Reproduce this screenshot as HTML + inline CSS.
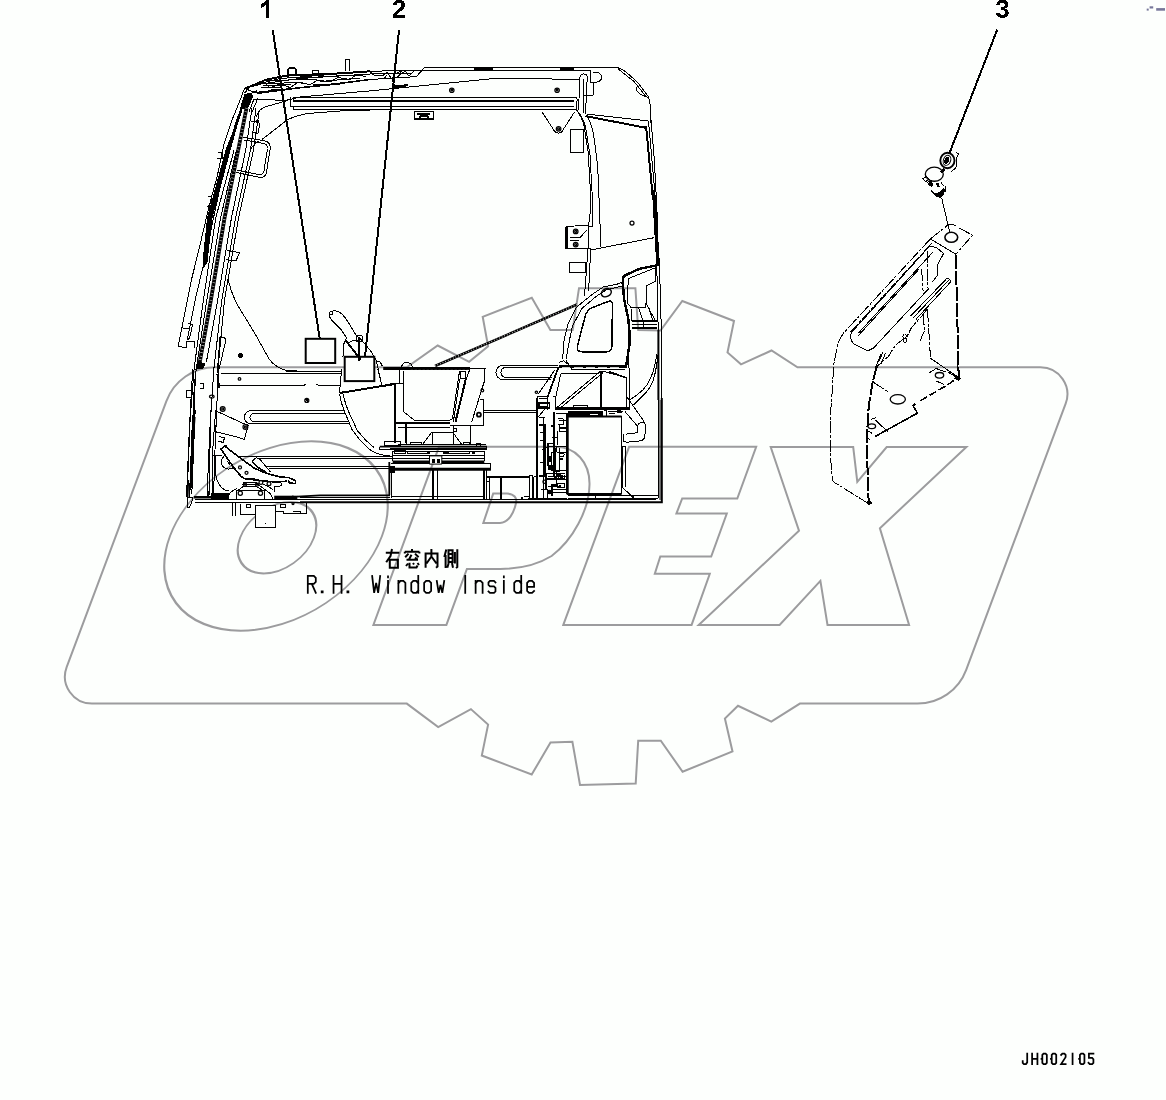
<!DOCTYPE html>
<html><head><meta charset="utf-8"><title>JH002105</title>
<style>
html,body{margin:0;padding:0;background:#fdfffd;}
body{width:1166px;height:1100px;overflow:hidden;font-family:"Liberation Sans",sans-serif;}
svg{display:block;position:absolute;left:0;top:0;}
.k,.k2,.k3,.f{shape-rendering:crispEdges;}
circle,ellipse{shape-rendering:geometricPrecision;}
.k circle,.k ellipse{stroke-width:1.25;}
.w{fill:none;stroke:#9c9c9e;stroke-width:2;stroke-linejoin:miter;}
.k{fill:none;stroke:#000;stroke-width:1;stroke-linecap:butt;stroke-linejoin:round;}
.k2{fill:none;stroke:#000;stroke-width:2;stroke-linejoin:round;}
.k3{fill:none;stroke:#000;stroke-width:2.2;stroke-linejoin:round;}
.t{fill:none;stroke:#000;stroke-width:1.75;stroke-linecap:square;stroke-linejoin:miter;}
.f{fill:#000;stroke:none;}
.wf{fill:#fdfffd;stroke:#000;stroke-width:1;}
.num{font-family:"Liberation Sans",sans-serif;font-weight:bold;font-size:26px;fill:#000;}
</style></head><body>
<svg width="1166" height="1100" viewBox="0 0 1166 1100">
<!-- 10_watermark.svg -->
<g class="w">
<path d="M215.2,367.3 L406.8,367.3 L437.7,345.5 L469.1,361.8 L488.1,346.3 L482.7,316.8 L531.8,297.7 L550.4,329.9 L572.7,329.9 L579,288.2 L635.4,288.2 L638.2,329.9 L660.5,330.5 L682.3,301 L734,321 L727.5,352.5 L741,364.3 L771.5,350.5 L797.5,367.3 L1040.4,367.3 A27,27 0 0 1 1065.65,403.7 L966.2,669.8 A52,52 0 0 1 917.4,703.6 L799.9,703.6 L771.3,721.6 L738,705.8 L724.9,718.6 L732.5,751.4 L682.6,771.8 L660.8,740.7 L638.2,740.7 L635.7,783.5 L580,784.9 L572.4,741.8 L550.5,742.6 L531.7,774.5 L481.8,755.5 L488.1,724.6 L470.9,709.1 L438.2,727.1 L406.8,703.6 L91.9,703.6 A27,27 0 0 1 66.65,667.2 L166.4,401.1 A52,52 0 0 1 215.2,367.3 Z"/>
<ellipse cx="0" cy="0" rx="106" ry="94.7" transform="translate(276,536) skewX(-20.5)"/>
<ellipse cx="0" cy="0" rx="36.9" ry="35.7" transform="translate(277,537.7) skewX(-20.5)"/>
<path d="M439,446.8 L556,446.8 C575,446.8 590,462 589.5,484.7 C589,510 573,540 551.6,556 C537,565 518,568.9 500.3,568.9 L466.9,568.9 L446.4,624.9 L373.4,624.9 Z"/>
<path d="M493.2,493.6 L507,493.6 C514,493.6 517.5,498 515.9,503.5 C514,512 509,522.9 500,522.9 L483.3,522.9 Z"/>
<path d="M563.3,624.9 L629.1,446.8 L756.2,446.8 L737.3,498.5 L682.2,498.5 L676.4,513.6 L726.8,513.6 L711.2,556.5 L660.3,556.5 L654.8,573.8 L709.8,573.8 L691.6,624.9 Z"/>
<path d="M698.7,624.9 L779.6,624.9 L820.4,580.9 L827.5,624.9 L909.1,624.9 L879.9,528.2 L966.4,447 L886.7,447 L857.3,481.8 L853.2,447 L770.7,447 L799,530.8 Z"/>
</g>
<!-- 20_cab_top.svg -->
<!-- ROOF -->
<g class="k">
<path d="M247.3,86.8 L280,78.6 L370,71.3 L415,70.2 L590.2,70.4"/>
<path d="M244.5,88.5 L262,83.8 L300,78.5 L370,74 L412,73.5"/>
<path d="M255.4,92.7 L340,83.3 L370,79.5 L416.4,76.6 L424.5,67.5 L574.5,67.9 L585.5,67.6 L615.5,67.5"/>
<path d="M268.3,80.7 L317.2,79 M262.3,83.7 L303.5,82.4 M263.2,85.9 L291.5,84.6 M312.9,85 L325.8,84.2 M261.4,88 L280.3,87.6 M268.3,90.2 L280.3,89.3 M300,78 L345,75.5 M320,81.5 L360,78"/>
<path d="M258,93.5 L300,88 L345,83.5"/>
<path d="M254,99 L285.5,100.5 L300,97 L370,90.9 L495.5,78.4 L580,79.3"/>
<path d="M290,97 V106.8 M293,97 H574.5 M293,97 V100.5 M293,106.6 V110 M290,106.6 L370,106.4 L574,106.3 M293,110 L405,109.7 L576,109.8"/>
<path d="M370,71.8 L375,76 L383,75.5 L387,72.5 L392,79 L395,74 L402,70.8 L398,76.5 L405,71 L409,76 L414,71 M370,79.3 L384,78.8 L387,75 M392,79 L394,84 L394,88.5"/>
<path d="M345.5,70.5 V59.5 H349.5 V70.5 M312.7,75 V70.5 H318.2 V75"/>
<path d="M265,83 L270,88 L280,84 L290,87.5 L298,82.5 L310,84.5 L318,80 L330,82 L338,77.5 L350,79.5 L356,75 L366,76.5"/>
</g>
<g class="k2">
<path d="M244.3,88.9 L265.7,79.9 L286.3,75.6 L340,73.4 L370,71.3"/>
<path d="M255.4,92.7 L340,83.3 L370,79.5" style="stroke-width:1.6"/>
<path d="M293,100.6 H574"/>
<path d="M287.5,76.3 V72 A4.3,4.3 0 0 1 296.4,72 V75.5"/>
<path d="M473.6,68.6 H492.7" style="stroke-width:2.6"/>
<path d="M424.5,67.6 H574.5 L585.5,67.5 L615.5,67.4" style="stroke-width:1.6"/>
<path d="M560,68.8 H574" style="stroke-width:2.4"/>
<path d="M393,86.5 L407,85.2 L394,88.5 Z" style="fill:#000"/>
</g>
<g class="k">
<circle cx="451.8" cy="90.2" r="2.2"/><circle cx="451.8" cy="90.2" r="0.8"/>
<circle cx="557.1" cy="90.2" r="2.2"/><circle cx="557.1" cy="90.2" r="0.8"/>
<path d="M414.3,111.4 H433.4 V118.9 H414.3 Z M417,114 H430 M420,118.9 V116 H428 V118.9" style="stroke-width:1.3"/>
<!-- rear top corner -->
<path d="M615.5,67.5 C620,67.8 623,69.5 626,72 L637.3,82 L648.2,96.4 C650,100 650.5,104 650.9,118.2 L654.3,159.1 L656.4,200"/>
<path d="M618,68.8 L634,81.5 L646.5,97"/>
<path d="M638,84.8 L636,89.6 L639.3,93.6 L648.2,97.7"/>
<path d="M590.2,70.4 V82.7 H593 V95 H584.1 M593,72.5 C597,71.8 601.3,73 601.8,77.3 C601.5,81 598,82.5 593,82.7"/>
<path d="M580,77 C580.5,73 586,73 587.3,76.5 L585.5,114 M580,77 L578.5,110 M583,78 L584,113"/>
<path d="M574.5,97 C577,97 577.5,99.5 577,101 L576,110"/>
<path d="M541.8,111.6 L554.1,130.5 C556,133.5 560,134 562,131.5 L574.5,112"/>
<circle cx="558.6" cy="128.8" r="2.3"/><circle cx="558.6" cy="128.8" r="1"/>
<path d="M570.5,129.8 H583.4 V152.3 H570.5 Z"/>
<path d="M576.6,110 C581,116 583,121 584.1,126.4 L588.2,152.3 L590.9,200"/>
<path d="M578.5,112 C583,118 585,124 586,130 L590,155 L592.5,200"/>
<path d="M586.8,115.5 C590,121 592,127 593.6,134.5 L597.7,165.9 L599.1,200"/>
<path d="M586.8,114.1 L648.2,120.9 M585.5,116.1 L645.5,127.7" />
<path d="M646.1,126.4 L653,200 M648.5,121 L655.5,200 M650.5,120 L651.5,126"/>
</g>
<g class="k2"><path d="M585.5,116.1 L645.5,127.7 M646.1,126.4 L653,200"/></g>
<!-- 22_cab_pillar.svg -->
<!-- FRONT PILLAR -->
<g class="k">
<path d="M241,98 L232,120 L224,144 L217,177.3 L209.5,204.5 L198.6,250.9 L191.4,280 L178.4,345.5"/>
<path d="M244,100 L236,122 L229,146"/>
<path d="M228,150 L204.1,262 L196.1,296 L187.3,340"/>
<path d="M234.1,150 L215.7,218.2 L203.4,300 L194.1,368.6 L189.3,430"/>
<path d="M236.5,150 L220.5,218.2 L206.8,300 L196.1,370 L192,430"/>
<path d="M252,108 L245.7,150 L231.4,218.2 L217.7,300 L206.4,361.8"/>
<path d="M256,108 L250.5,150 L235.5,218.2 L221.8,300 L213.9,368.6 L209.8,430"/>
<path d="M259,112 L253.5,150 L238.5,218.2 L224.5,300 L218.6,361.8 L216.6,410.9"/>
<path d="M254,99 L249,112 M258,98 L252,112"/>
<!-- small brackets on pillar -->
<path d="M218,152 H222.5 V158 H217 M208.5,196 L212,197 L211,203 L207.5,207 M208,207 L211,209 L210,214"/>
<path d="M250.7,120.9 L258.5,122.5 C260,123 260,124.5 259.5,126 L258,133.2 L252,132.5 M257.5,120 a1.2,1.2 0 1 0 0.1,0"/>
<path d="M226.8,250.5 L239.5,252.5 L236,261 L226,259.5"/>
<!-- wiper motor box -->
<path d="M180.5,327.7 L188.5,328.7 M178.4,346.8 L186.5,347.3 V341 H194 V348.2 M188.5,323.5 L192.5,324.2 L190.5,334.5 L188.5,340"/>
</g>
<path class="f" d="M242.6,109 L237,127 L230.6,150 L212.5,218 L207.5,262 L203.5,268.5 L202.5,262 L207,218 L225.5,150 L234.5,127 L241.2,109 Z"/>
<path class="f" d="M244.5,94 L251.5,92.5 L253,96.5 L249.5,105 L247,109 L240,109 L242,101 Z"/>
<g class="k"><path d="M247.3,86.8 C244.5,88 243,91 241,98 M250,87 L244.5,93 M256.8,90.9 L250.5,93.5 M244.5,88.5 L258,93.5"/></g>
<path d="M246.5,108 L238.2,150 L224.5,218.2 L210.9,300 L199.8,362" style="fill:none;stroke:#000;stroke-width:3.8"/>
<path d="M246.5,108 L238.2,150 L224.5,218.2 L210.9,300 L199.8,362" style="fill:none;stroke:#fdfffd;stroke-width:2.6;stroke-dasharray:0.55 3"/>
<path class="f" d="M197.5,361 L205.5,363.5 L203.5,368.5 L195.5,369.5 Z"/>
<!-- GRAB HANDLE -->
<g class="k">
<path d="M243.2,137.3 L263.5,140.6 C268,141.3 270.5,144 270.3,148 L266.5,172 C266,176 263,178 259,177.3 L236.4,172.5"/>
<path d="M243.8,140 L262.5,143.2 C266,143.8 267.8,145.5 267.5,148.5 L264,171 C263.5,174 261.5,175 258.5,174.5 L236.8,170"/>
<path d="M262.3,139.3 L286.8,120.2 C295,116 302,114.3 308.6,113.4 L340,111 L370,110"/>
<path d="M256,117 C258,111 261,108.5 265,107 L285.5,101"/>
<path d="M250,150 C252,147 255,143 259,141"/>
</g>
<!-- 24_cab_midleft.svg -->
<!-- lower wiper / left wall -->
<g class="k">
<path d="M228.2,280 C231,292 234,298 236.4,303.2 L255.5,334.5 L269.1,359.1 C272,363 278,368 286.8,370.7 L310,371.4 H341"/>
<path d="M220,337.3 L224.5,338 C226,338.5 226,340 225.5,341.5 L219.3,368.6 M220,337.3 L217.3,372.7"/>
<circle cx="239.5" cy="378.9" r="1.3"/>
<path d="M220.7,373.8 H341.5 M220,385.7 H303.2 L305.5,384.4 M316,384.4 L319,385.2 H340"/>
<path d="M286,371.1 H342"/>
<circle cx="306.8" cy="400.4" r="2"/><path d="M305.4,399 L308.2,401.8 M308.2,399 L305.4,401.8"/>
<path d="M251,410.7 H345 M254,413.4 H346 M254,421.6 H349 M251,423.9 H350"/>
<path d="M251,410.7 A6.6,6.6 0 0 0 251,423.9 M254,413.4 A4.1,4.1 0 0 0 254,421.6"/>
<circle cx="222.7" cy="408.9" r="2.4"/><circle cx="222.7" cy="408.9" r="1"/>
<circle cx="245.4" cy="427" r="2.4"/><circle cx="245.4" cy="427" r="1"/>
<path d="M192.7,368.6 L189.3,430 L186.5,497 M196.1,370 L192,430 L189.5,497"/>
<path d="M186.6,390.5 H191.4 V397.3 H186.6 Z M199.5,383.6 H203.6 V388.4 H199.5"/>
<ellipse cx="211.8" cy="396.6" rx="2.3" ry="1.5"/>
<path d="M216.6,410.9 L215,450 L213.5,497 M209.8,430 L207,497"/>
<path d="M217.3,374.1 L219.3,387.7" style="stroke-width:1.8"/>
</g>
<path class="k2" d="M194.8,379.5 L193,440 L190.5,490" style="stroke-width:1.8"/>
<circle class="f" cx="240.5" cy="355.7" r="2.5"/>
<!-- decals 1 & 2 -->
<rect x="305.7" y="338.8" width="29.5" height="24.2" style="fill:#fdfffd;stroke:#000;stroke-width:2"/>
<g class="k">
<!-- lever -->
<path d="M329.3,315 C328.5,311.5 331,310.5 336.8,311.1 C342,312.5 345,317 347.7,321.4 L355.9,335 L362,340.5 L370.9,351.4 L376.4,360.9 L381.8,385.5"/>
<path d="M329.3,315 C330,319 332,321 334.1,322.7 L340.9,329.5 L346.4,337.7 L343.6,344.5 L343,356.8"/>
<path d="M331,311.5 a1.8,1.8 0 1 0 .1,0 M356.6,335.7 H362 V341.1 H356.6 Z M347.5,343.5 C351,341 355,340 358.5,340"/>
<path d="M375.7,362.3 C377,360.3 380,359.8 382.5,366.4"/>
<path d="M341.6,369.1 L339.5,393 M377.7,369.1 L381.8,385.5"/>
<path d="M339.5,393.6 C340.5,400 342,406 345,412.7 L351.8,429.1 L360,440 L369,449 C373,452.5 380,455 390,456"/>
<path d="M343,394.3 C344.5,400 346,406 349.1,412.7 L357.3,430.5 L365.5,440 L374,447.5"/>
</g>
<g class="k2" style="stroke-width:2">
<path d="M359.3,337 V359.5 M345.7,340.5 L358.6,356.8"/>
<path d="M339.5,393 L394.1,384.1 M394.8,384.1 V442.7"/>
<path d="M394.8,423 H450"/>
</g>
<rect x="344.7" y="356.8" width="29.6" height="24.3" style="fill:#fdfffd;stroke:#000;stroke-width:2"/>
<path class="f" d="M357.5,357 h3 v3 l-2,1 z"/>
<!-- 26_seat.svg -->
<g class="k">
<path d="M401.6,366.6 C402.5,363.5 405,362.3 407,362.4 C409.5,362.5 411.5,364 412.5,366.6"/>
<path d="M399.5,369.1 V382.7 M403,370.5 V411.4 L414.5,420.2 H450 C451.5,420 452.3,419 452.6,417.5 L458.2,379.5 L459.5,371.5"/>
<path d="M390,383.6 H403"/>
<path d="M460.9,371.4 H465.7 V378.2 H460.9 Z M459.5,379.5 L453.4,421.8 M469.8,369.3 L466,379.5"/>
<path d="M485.5,368.4 H469 M484.8,368 V379.5 L471.8,421.8 M479.5,399.3 H483.4 V425.9 H450 M484.8,379.5 L482,390"/>
<circle cx="482.3" cy="390.5" r="1.4"/><circle cx="478.9" cy="414.7" r="2" style="stroke-width:1.8"/>
<path d="M406.4,424 V444.3 M398,427.3 H450 M470.5,426 V444.3 M453.4,426 V444.3 M454,428 H456.8 V431.4 H454"/>
<path d="M431.6,432.5 H453.4 M431.6,432.5 L422.7,444.3 M432.3,432.5 V444.3 M454.1,434.1 L461.6,444.3"/>
<path d="M410.5,444.3 V442.3 H421.4 V444.3 M463,444.3 V442.3 H469.1 V444.3 M476.6,446.4 V443.6 H480.7 V446.4 M390,441.6 H400.2 V445"/>
<path d="M398,444.4 H486 M398,446.6 H486.8 V449.1"/>
<path d="M392.7,451.1 H484 M407.7,451.1 H427.5 V453.9 H407.7 Z M448.6,451.1 H469.1 V453.9 H448.6 Z M392.7,455.9 H484 M392.7,458.6 H484 M392.7,451.1 V461.4 M484,451.1 V461.4"/>
<path d="M391.4,463.6 H490.9 V469.5"/>
<path d="M437.4,470 V499 M486.6,470 V499 M489.5,477.7 V499 M486.3,476.7 H489.5 V481.2 H486.3 M529.4,475.4 H532.6 V499 M529.4,475.4 V499 M391,496 H484.3 M528,498.5 H567 M533,477.5 L536.5,476"/>
<path d="M432.9,470 V499 M484.3,470 V499 M486.3,477.3 H529.4 M501,477.7 V499" style="stroke-width:2"/>
<path class="f" d="M521,497 h2.2 v2.2 h-2.2z M523.5,495.5 h5 v1.3 h-5z"/>
<!-- slot right of seat -->
<path d="M503.2,365.2 H558 M503.2,379.7 H551 M503.2,365.2 A7.25,7.25 0 0 0 503.2,379.7 M506,367.3 H557 M506,377.6 H552 M506,367.3 A5.15,5.15 0 0 0 506,377.6"/>
<path d="M484,410.2 H537 M484,412.3 H537"/>
</g>
<g class="k2" style="stroke-width:2">
<path d="M465.7,379.5 L455.5,421.8"/>
<path d="M395.2,422.7 H450"/>
<path d="M390,449.3 H486.8"/>
</g>
<path d="M383.2,368.4 H470" style="fill:none;stroke:#000;stroke-width:3"/>
<path d="M410.5,370.4 H469" style="fill:none;stroke:#fdfffd;stroke-width:1;stroke-dasharray:2.5 1.5"/>
<path d="M392.7,462 H484.3" style="fill:none;stroke:#000;stroke-width:3"/>
<path d="M390,469.2 H490.9" style="fill:none;stroke:#000;stroke-width:3"/>
<path class="f" d="M427.5,451 h2.2 v3 h-2.2z M442.5,451 h6 v3 h-6z M471.5,451 h3.5 v3 h-3.5z M390,466 h4 v7 h-4z"/>
<path d="M429.5,455.9 H441.8 V464.1 H429.5 Z" style="fill:#fdfffd;stroke:#000;stroke-width:1"/>
<path class="f" d="M431.5,459 h3.5 v3.5 h-3.5z M436.5,459 h3.5 v3.5 h-3.5z"/>
<!-- belt -->
<path d="M435,366 L577,304.5" style="fill:none;stroke:#000;stroke-width:2.5"/>
<path d="M435,366 L577,304.5" style="fill:none;stroke:#fdfffd;stroke-width:1.4;stroke-dasharray:0.6 2.2"/>
<!-- 28_floor.svg -->
<g class="k">
<!-- lower pillar / wiper arm lower -->
<path d="M190.5,410 L187,497.3 H192.5 L191.8,502.7 L189.1,508.2 L187,506.8 V497.3 M195.2,410 L191.8,494.5"/>
<path d="M210.9,410 L208.9,495.9 M215.7,410 L212.3,455 V495 M209.5,455.7 V495"/>
<path d="M213,455.7 H222 M215.7,456.4 V474 C216.5,481 219,485 222,488 C224.5,490 226.5,491 228.6,491"/>
<!-- bracket -->
<path d="M217,411.4 L242.3,423 L248.4,425 L244.3,439.3 L238.2,437.3 L215.7,431.8 Z M219.5,436.5 L224.5,438 L223,442.5 L218.5,441"/>
<!-- rails -->
<path d="M213,455.7 H222 M239.5,456.1 H392.7 M257.5,458.2 H392.7 M266,466.2 H389.3 M228.5,468.2 H236 M268.5,468.4 H389.3"/>
<!-- pedal -->
<path d="M254.5,468.3 L240.7,458.4 L227.9,448.6 L225.7,445.6 L221,449 L233,466.6 L240.7,476 L244.2,478.6 L254.5,479.9 L275,482 L287,481.2" style="stroke-width:1.6"/>
<path d="M254.5,468.3 L266.5,473.4 L280.2,476.9 L288.8,477.7 L295.6,480.7 V483.7 L289.6,482.9 L287.9,480.3" style="stroke-width:1.6"/>
<path d="M251.9,461.4 L256.2,457.6 L259.6,458.9 L270.7,472.2 M251.9,461.4 L257.9,467.4 L266.5,472.6" />
<path d="M251.9,461.4 L257.9,467.4 L266.5,472.6" style="stroke-width:1.8"/>
<circle cx="240" cy="467.4" r="1.5"/><circle cx="246.5" cy="472.8" r="1.5"/>
<path d="M224,456.3 A6.4,6.4 0 1 0 233,467.5"/>
<path d="M227,461 L230,464.5"/>
<!-- pedal base -->
<path d="M227.9,499.2 C228.3,495.5 229,493.5 230.4,492.3 L237.3,488 M263,488 L269.9,493.2 C271.5,495 272.2,497 272.5,499.2"/>
<path d="M236.9,490.6 H264.3 V499.2 H236.9 Z M237.7,490.6 L243.3,486.3 H256.2 L263,490.6 M247.6,478.6 H254.5 M244.2,482 H255.3 M242.4,484.6 H257.9 M244.2,482 L242.4,484.6 M255.3,482 L257.9,484.6"/>
<circle cx="240.3" cy="493.2" r="2.1"/><circle cx="260.5" cy="493.2" r="2.1"/>
<circle cx="245" cy="484.6" r="1.6"/><circle cx="257" cy="484.6" r="1.6"/><circle cx="260.9" cy="482.5" r="1.9"/><circle cx="269" cy="483.7" r="1.9"/>
<path d="M273.3,482.9 H281 V485.5 L278.5,486.7 H274.2 V491.5 M263.5,484 L273,489.5 M257.9,484.6 L263,488"/>
<!-- floor -->
<path d="M194.5,499.3 H656 M194.5,502.3 H657 M300,497 H390"/>
<path d="M232.7,502.7 V516.4 M235.5,502.7 V516.4 M240.2,504.1 V514.3 H255.2 M246,504.3 H250.5 V507.5 H246 Z M280.5,504.3 H285 V507.5 H280.5 Z M275.7,511 H283 V513.6 H306.4 V502.7 M293,511 H300 V513.6"/>
<path d="M255.2,505.5 H275.7 V527.3 H255.2 Z" style="fill:#fdfffd"/>
<path d="M264.8,522.6 h1.5 v1.2 h-1.5z" class="f"/>
<circle cx="292.8" cy="497.2" r="1"/><circle cx="293" cy="503.6" r="1"/>
</g>
<path d="M193.9,497.3 H211 L228.6,496.2" style="fill:none;stroke:#000;stroke-width:2.6"/>
<path class="f" d="M211,493.4 H228.7 V499.2 H211 Z"/>
<path class="f" d="M225,445 l2.2,1.8 l-1.6,1.6 l-2,-1.8z"/>
<path d="M274.2,497.4 H297.3" style="fill:none;stroke:#000;stroke-width:3.4"/>
<path d="M297,496.6 L320,495.4 H390" style="fill:none;stroke:#000;stroke-width:1.6"/>
<path d="M194.5,417 L192.8,440" style="fill:none;stroke:#000;stroke-width:2.2"/>
<path d="M188.2,480 L187.5,497" style="fill:none;stroke:#000;stroke-width:2"/>
<g class="k">
<path d="M389.3,462 V495 M391.4,469 V498"/>
<path d="M384.5,441.6 H400.2 V445.5 H384.5 Z M379.8,446.5 V449.5 H392"/>
<path d="M394.1,450.2 H405.7 V453 H394.1 Z M405.7,424.3 V442.7 M405.7,427.7 H450"/>
</g>
<path class="f" d="M391.4,466 h3.4 v7.4 h-3.4z"/>
<path d="M389.3,462 V495" style="fill:none;stroke:#000;stroke-width:1.8"/>
<path d="M379.8,446.6 H486.8" style="fill:none;stroke:#000;stroke-width:1.8"/>
<!-- 30_rear.svg -->
<g class="k">
<!-- rear pillar lines continuing down -->
<path d="M590.9,200 L590,214.5 L588.6,225.5 L588,248.6 L584.5,296.4"/>
<path d="M592.5,200 L592.7,226.8 M599.1,200 L600.9,247.3 M590.7,250 L588.6,290.9"/>
<path d="M594.1,249.3 L654.1,237.7 M588,248.8 L594.1,249.3"/>
<circle cx="632" cy="223" r="2"/>
<path d="M569.5,262.3 H585.2 V272.5 H569.5 Z"/>
<!-- hinge bracket -->
<path d="M566.5,226.5 L586,225.3 L592.7,226.8 M566.5,248.6 H588 M570.2,237.5 H580 L587,230 M570.2,240.5 H578.5"/>
<circle cx="575.7" cy="231.4" r="2.3"/><circle cx="575.7" cy="244.6" r="2.3"/><circle cx="575.7" cy="231.4" r="1"/><circle cx="575.7" cy="244.6" r="1"/>
<!-- rear right wall -->
<path d="M655.5,200 L659.5,266.4 L661.6,340 V502 M656.4,200 L658,232 M653,200 L656.8,266 L658.2,330 V498"/>
<!-- armrest / console upper -->
<path d="M628.2,278.6 L655.5,267.7 V281.4 L646.6,285.5 L645.9,307.3 H630.9 L627.5,303.2 Z"/>
<path d="M631.6,308.6 V320.9 M645.9,303.2 L655.5,320.9 M638.5,308 L643.2,320.9 V327.7 M631.5,324.3 H656.8 M649,308 L652.5,320"/>
<path d="M617.3,284.1 L603.6,286.8 L591.4,295 L576.4,307.3 L568.2,323.6 L564.1,340 L562.7,358.6"/>
<path d="M618.6,286.8 L606,290 L596,296.5 L581.8,308.6 L572.3,326.4 L569.5,340 L566.1,358.6"/>
<path d="M617.3,284.1 L621,282.5 L623,286 L618.6,286.8"/>
</g>
<g class="k2" style="stroke-width:1.5">
<ellipse cx="606.3" cy="292.7" rx="5.2" ry="3.8" transform="rotate(-25 606.3 292.7)"/>
<path d="M585.9,313.4 L590,308.6 L609.1,301.1 C611.5,301 612.5,302 612.5,304 L611.8,347 C611.5,350.5 610,351.8 607,351.8 H582 C578.5,351.8 576.8,350 577.3,346.5 Z"/>
</g>
<g class="k3" style="stroke-width:2.4">
<path d="M658.2,265 L639,269 L625.5,275.2 C623,277 622.5,278.5 622.7,280 L624,299 L628.2,318.2 L630.2,340 L625.8,368"/>
<path d="M653.4,190 L658.2,266.4"/>
<path d="M566.5,226.5 V248.6" style="stroke-width:3.6"/>
<path d="M631.5,320.9 H656.8 M631.5,327.7 H656.8" style="stroke-width:1.8"/>
<path d="M559.3,366.3 H625.5" />
<path d="M555.2,408.4 H629.5"/>
<path d="M600.9,370.9 V408" style="stroke-width:1.8"/>
<path d="M558.6,366.8 L547.7,396.8" style="stroke-width:1.8"/>
<path d="M609.1,371.6 L625.5,377.7" style="stroke-width:1.6"/>
</g>
<path d="M562,367.6 H622" style="fill:none;stroke:#fdfffd;stroke-width:.9;stroke-dasharray:9 3"/>
<g class="k">
<path d="M558.6,362.7 L563.4,360.7 L568.2,364.1 M566,360.5 L572,369.5 H625"/>
<path d="M555.2,369.5 L538.2,394.1 M560.7,373.6 L555.9,396.8 M561.4,373.8 H598"/>
<circle cx="536.4" cy="392.3" r="1.2"/>
<path d="M600.9,370.9 L555.9,408.4 M603,372.6 L560,408.4"/>
<path d="M601.6,370.9 L626.8,377.7 V409.1 M628.2,330 V368 M629.5,368 V409"/>
<path d="M573,407.7 V405.4 H587.3 V407.7"/>
<!-- hoses right -->
<path d="M658.9,343.6 C658,360 656,372 652.7,381.8 C650,388 647,392 643.2,395.5 L633.6,405"/>
<path d="M656.8,354.5 C655,368 652,377 647.3,384.5 C644,389.5 640.5,392.5 636.4,395.5 L628.9,400.2"/>
<!-- pipe elbow -->
<path d="M626.8,396.8 L643.4,420.5 C645,423 645.5,425 645.5,427.3 L644.8,436.8 C644,439.5 642.5,440.5 640,440.9 L626.4,442.3"/>
<path d="M625,411.6 L637.3,425.9 V432.7 L626.4,434.1 M637.3,425.9 C638.5,422.5 642,421.5 645,423.8 M623,434.1 V441.6 H626.4"/>
<path d="M622.3,446.4 V487.3 L633.2,497.5 M625.7,446.4 V487.3 M622.3,446.4 H625.7"/>
<!-- fridge box -->
<path d="M621.6,416.4 V494.1 M567.7,495.5 H658 M567.7,498.2 H658 M595,495.5 V498.2 M633.5,495.5 V498.2"/>
</g>
<path d="M567.7,416.4 H621.6 M567.7,416.4 V494.1 H621.6" style="fill:none;stroke:#000;stroke-width:2"/>
<path class="f" d="M567.5,410.5 H603 V416 H567.5 Z"/>
<path d="M590,414.5 H598" style="stroke:#fdfffd;stroke-width:1;fill:none"/>
<g class="k">
<path d="M604,410 H606.5 V416 M608,411 H623 M609,413.5 H615 M617,410.5 h4 v2 h-4z"/>
</g>
<!-- rear wall & floor -->
<path d="M661.8,398 V502.3 H300 M658.4,330 V400" style="fill:none;stroke:#000;stroke-width:2"/>
<path d="M660,400 V500" style="fill:none;stroke:#000;stroke-width:1"/>
<!-- 32_mech.svg -->
<!-- mechanism column left of fridge -->
<g class="k">
<path d="M537.5,396.8 H547 V406.4 H537.5 Z M536.1,400.5 V405 M547,406.4 L538.2,417 M552.5,396.8 H555.9 V408.4 M543.6,417.7 V498 M547,398 V410"/>
<path d="M538.5,398.8 H546.5" />
<path d="M557,413 H566.8 M557.5,418.5 H563 V424.5 H557.5 M559,424.5 V431 H566.8 M557,431 V445 M552,437 H557 M549.5,446 H556.5 V452 L551,453 V470 H556 M556.5,452 H566.8 M559,452 V470 H566.8"/>
<path d="M556,470 V476 H566.8 M548,476 H556 V486 H547.5 M558,479 H566.8 M557,483 H564 V487.5 H557 Z M553,489 H566.8 M548.5,492 H566.8 M541,489 H547 V498 M529.5,475 V498 M533,477 V498"/>
<circle cx="544.5" cy="481.8" r="1.6"/><circle cx="549.3" cy="492" r="1.6"/>
</g>
<g class="k3" style="stroke-width:2.2">
<path d="M537.2,402.7 V498.2"/>
<path d="M553.6,412.3 V476.4"/>
<path d="M566.9,413 V494"/>
</g>
<path class="f" d="M547.5,466 h6.5 v3.5 h-6.5z M556.5,474 h4 v3 h-4z M552,483.5 h3.5 v3.5 h-3.5z M560,475 h3 v2.5 h-3z M549,455.5 h2.5 v6 h-2.5z M536,398 h2 v8 h-2z"/>
<g class="k2" style="stroke-width:1.6">
<path d="M539,402.7 H549.3 V408.2 H539 Z M539,425 H545.2 V476 H539 M548,443.6 H554 V465.5 H548 Z"/>
<path d="M555.5,413.5 H567 M558.9,420.5 H567 M558.9,428 H567 M555.5,446.4 H567 M555,447.7 V470.9 H559.5 V447.7"/>
<path d="M546,473.6 H565 M546,479 H565 M546,473.6 V490 M552,484 V496"/>
</g>
<g class="k">
<path d="M542.5,450 L547.6,446.4 H553.4 M539,417.7 H545.2 M559.5,453.2 H563.5 L564.5,454.6 L563.5,456 H559.5 M540,432 h4 M540,440 h4 M540,462 h4"/>
<path d="M556,475 h9 M556,477 h9" style="stroke-dasharray:1 1"/>
</g>
<path class="f" d="M548,465.5 h5.4 v4 h-5.4z M551.4,424.5 h2 v2.8 h-2z M554,476.4 h2.2 v2.7 h-2.2z M552.7,484.5 h4 v2.7 h-4z M548,490 h2.7 v4 h-2.7z M556,486.5 l5,-1.5 v3.5 z M559.5,458 h3 v2 h-3z"/>
<!-- 40_bracket.svg -->
<!-- item 3 -->
<g class="k">
<ellipse cx="934.3" cy="174.2" rx="9" ry="7.1" style="stroke-width:1.35"/>
<path d="M923,178.5 L926.5,176.5 L929,179.5 L925.5,181.5 Z M926.5,181 L930,186 M941,182.5 L943.5,186 M945,186 V192 M941.6,197.6 L949.8,232.5"/>
<path d="M956,152.5 L958.5,154 L957,156.5 M956.5,157 C957.5,161 957,165 955.5,168 L951,172"/>
</g>
<ellipse cx="947.4" cy="160.5" rx="7.1" ry="7.7" style="fill:none;stroke:#000;stroke-width:1.9"/>
<ellipse cx="947" cy="160.3" rx="3.6" ry="5.2" transform="rotate(20 947 160.3)" style="fill:none;stroke:#000;stroke-width:1"/>
<ellipse cx="946.8" cy="160.2" rx="2.2" ry="3.8" transform="rotate(25 946.8 160.2)" class="f"/>
<path class="f" d="M928,181 l3.5,-1 l2,6 l-2.5,1z M936,183 l2.5,-0.5 l1,4 l-2.5,0.5z M931,190 l4,3 l5,-1 l3,-4 l2,1 l-1,6 l-4,3 l-5,-2 l-4,-5z M940,172 l3,-4 l2,2 l-3,4z"/>
<!-- bracket -->
<g class="k" style="stroke-dasharray:12 1.6 3 1.6">
<path d="M930.4,238.9 L947.8,225.1 C950,224.3 953,224.3 956,225.8"/>
<path d="M959.5,228 L972.5,235.3 L955.8,254.2"/>
<path d="M930.4,238.9 L844.5,332 C840,337 838.5,341 837.3,346.5 L833.6,365.5 L832.4,389.1 L830.2,418.2 L830.9,461.8 L832.4,479.3 C833,482 835,483.5 837.5,484.4 L868,503.3"/>
<path d="M931.8,243.3 L850.4,332"/>
<path d="M927.5,250.5 V288.4 M921.6,269.5 L923.1,291.3"/>
<path d="M927.5,308.7 L923.1,314.5 L911.5,327.6 L907.1,336.4 L895.5,345.1 L888.2,356.7 L878,365.5 L872.2,380"/>
<path d="M923.1,313.1 L924.5,330.5 L920.2,340.7 M927.5,310.2 L930.4,356.7"/>
<path d="M873.8,382.5 L888.4,392"/>
<path d="M957.5,360 L958.2,374.5"/>
</g>
<g class="k">
<path d="M955.8,254.2 L930.4,238.9"/>
<path d="M928.9,246.9 C932,246 935,247 937.6,248.4 L943.5,253.5 L937.6,265.1 V275.3 L931.8,282.5"/>
<path d="M928.9,246.9 L851.8,332 C849.5,336 850.5,340 853.3,343.6 L867.8,350.9 L873.6,348 L928.9,288.4"/>
<path d="M918.7,269.5 L857.6,336.4 M933,252 L858.5,333" />
<path d="M946.4,278.9 L910.7,316 M948.5,280.4 L912.9,318.2 M950.7,281.8 L915.8,319.6 M946.4,278.9 C948,277.5 950.5,279 950.7,281.8"/>
<path d="M880.9,353.8 L876.5,365.5 M883,352 L878.5,362 M885.5,353 L881,364"/>
<path d="M930.4,358.2 L958,377.1 M904.5,334 a1.6,2.2 0 1 0 .1,0 M905,338 a1.6,2.2 0 1 0 .1,0"/>
<path d="M876.5,365.5 L872.9,380"/>
<path d="M875.3,420 L888,432 M871,419.5 L876.5,417.5 M868,431 L872.5,433.5 M867.5,438 L870,440"/>
<path d="M929,373 L936,368.5 L946,372 M936,381 L944.5,384.5 M948.5,372.5 L958,378"/>
</g>
<g class="k2" style="stroke-width:1.6">
<ellipse cx="951.3" cy="237.3" rx="6.4" ry="5"/>
<ellipse cx="897.8" cy="399.3" rx="7.6" ry="4.7" style="stroke-width:1.3"/>
<ellipse cx="939.5" cy="375.3" rx="4.2" ry="2.8" style="stroke-width:1.3"/>
<ellipse cx="871.8" cy="426.2" rx="3.8" ry="2.4" style="stroke-width:1.3"/>
<path d="M875.3,436.4 L917.5,413.1 L913.1,405.8 L915.5,403.5"/>
<path d="M920.4,400.7 L946.5,385.5 L959.6,376.7" style="stroke-dasharray:8 2.5"/>
</g>
<g class="k3" style="stroke-width:2;stroke-dasharray:14 2">
<path d="M955.8,254.9 L958.7,377.1"/>
<path d="M876.7,365.8 L872.4,383.3 L868.7,406.5 L867.3,429.8 V461.8 L868.7,503.3"/>
</g>
<path class="f" d="M866.5,501.5 l4,-1 l2,2.5 l-3.5,2.5z M956,376 l5,2.5 l-2,2.5 l-5,-2.5z"/>
<!-- 80_text.svg -->
<g class="t">
<path transform="translate(307.80,592.9)" d="M0,0 V-17 H6 L8,-15 V-11 L6,-9 H0 M4,-9 L8,0"/>
<path transform="translate(320.67,592.9)" d="M1,-0.5 V-1.5 M2,-0.5 V-1.5"/>
<path transform="translate(333.54,592.9)" d="M0,0 V-17 M8,0 V-17 M0,-9 H8"/>
<path transform="translate(346.41,592.9)" d="M1,-0.5 V-1.5 M2,-0.5 V-1.5"/>
<path transform="translate(372.15,592.9)" d="M0,-17 L2,0 L4,-10 L6,0 L8,-17"/>
<path transform="translate(385.02,592.9)" d="M3,0 V-12 M3,-15.5 V-16.5"/>
<path transform="translate(397.89,592.9)" d="M0.5,0 V-12 M0.5,-9.5 L2.5,-12 H5.5 L7.5,-10 V0"/>
<path transform="translate(410.76,592.9)" d="M7.5,0 V-17 M7.5,-2.5 L5.5,0 H2.5 L0.5,-2 V-10 L2.5,-12 H5.5 L7.5,-9.5"/>
<path transform="translate(423.63,592.9)" d="M2.5,0 L0.5,-2 V-10 L2.5,-12 H5.5 L7.5,-10 V-2 L5.5,0 Z"/>
<path transform="translate(436.50,592.9)" d="M0.3,-12 L2.2,0 L4,-8 L5.8,0 L7.7,-12"/>
<path transform="translate(462.24,592.9)" d="M3,0 V-17"/>
<path transform="translate(475.11,592.9)" d="M0.5,0 V-12 M0.5,-9.5 L2.5,-12 H5.5 L7.5,-10 V0"/>
<path transform="translate(487.98,592.9)" d="M7.5,-10.5 L6,-12 H2 L0.5,-10.5 V-8 L2,-6.5 H6 L7.5,-5 V-1.5 L6,0 H2 L0.5,-1.5"/>
<path transform="translate(500.85,592.9)" d="M3,0 V-12 M3,-15.5 V-16.5"/>
<path transform="translate(513.72,592.9)" d="M7.5,0 V-17 M7.5,-2.5 L5.5,0 H2.5 L0.5,-2 V-10 L2.5,-12 H5.5 L7.5,-9.5"/>
<path transform="translate(526.59,592.9)" d="M0.5,-6 H7.5 V-10 L5.5,-12 H2.5 L0.5,-10 V-2 L2.5,0 H5.5 L7.5,-2"/>
</g>
<g class="t" style="stroke-width:1.75">
<path transform="translate(1022.70,1064.1) scale(0.82,0.875)" vector-effect="non-scaling-stroke" d="M5.5,-12 V-2 L4,0 H1.5 L0,-1.5 V-3.5"/>
<path transform="translate(1032.10,1064.1) scale(0.82,0.875)" vector-effect="non-scaling-stroke" d="M0,0 V-12 M6.5,0 V-12 M0,-6 H6.5"/>
<path transform="translate(1041.50,1064.1) scale(0.82,0.875)" vector-effect="non-scaling-stroke" d="M2.5,0 L1,-1.5 V-10.5 L2.5,-12 H5 L6.5,-10.5 V-1.5 L5,0 Z M0,-6 H1"/>
<path transform="translate(1050.90,1064.1) scale(0.82,0.875)" vector-effect="non-scaling-stroke" d="M2.5,0 L1,-1.5 V-10.5 L2.5,-12 H5 L6.5,-10.5 V-1.5 L5,0 Z M0,-6 H1"/>
<path transform="translate(1060.30,1064.1) scale(0.82,0.875)" vector-effect="non-scaling-stroke" d="M1,-10.5 L2.5,-12 H5 L6.5,-10.5 V-8 L1,0 H6.5"/>
<path transform="translate(1069.70,1064.1) scale(0.82,0.875)" vector-effect="non-scaling-stroke" d="M3.5,0 V-12"/>
<path transform="translate(1079.10,1064.1) scale(0.82,0.875)" vector-effect="non-scaling-stroke" d="M2.5,0 L1,-1.5 V-10.5 L2.5,-12 H5 L6.5,-10.5 V-1.5 L5,0 Z M0,-6 H1"/>
<path transform="translate(1088.50,1064.1) scale(0.82,0.875)" vector-effect="non-scaling-stroke" d="M6,-12 H0.5 V-7 H4.5 L6,-5.5 V-1.5 L4.5,0 H1.5 L0,-1.5"/>
</g>
<!-- 85_kanji.svg -->
<g class="t" style="stroke-width:2;stroke-linecap:butt">
<!-- 右 -->
<path d="M385.8,552.7 H399.3 M392,549 L390.5,556 L386.2,562.3 M389.8,559.8 H397.9 V567.7 H389.8 Z"/>
<!-- 窓 -->
<path d="M412,549 V551.5 M404.8,551.8 H419.4 M404.8,551.8 V553.5 M419.4,551.8 V553.5 M408.5,553.6 L405.2,557.2 M415,553.6 L418.6,557.2 M411.5,554.8 L409,559.5 M406.5,559.8 H418 M415,557.5 L417.5,559.5 M406,566 L408,563.5 M409.5,562.8 V567.5 H416.5 L417.5,565.5 M413,563 L414,564.5 M417.5,563 L419,565"/>
<!-- 内 -->
<path d="M425.6,567.7 V553.5 H437.5 V566.5 L436,567.7 M431.4,549 V556.5 L426.5,563.5 M431.4,556.5 L436.5,563.5"/>
<!-- 側 -->
<path d="M446.3,549.5 L444.3,557 M445.6,555 V568 M448.5,550.2 H452.6 V562 H448.5 Z M448.5,554 H452.6 M448.5,558 H452.6 M448.7,563 L447.3,567.8 M452,563 L453,567.8 M454.9,552 V563.5 M457.3,549.3 V567 L456,568"/>
</g>
<!-- 90_labels.svg -->
<g class="f">
<path d="M269.2,17.8 H266 V4.6 Q264,6.8 261,8 V4.4 Q264.5,2.8 266.3,-0.5 H269.2 Z"/>
<path transform="translate(392,17.8) scale(0.0125,-0.0125)" d="M71 0V195Q126 316 227.5 431.0Q329 546 483 671Q631 791 690.5 869.0Q750 947 750 1022Q750 1206 565 1206Q475 1206 427.5 1157.5Q380 1109 366 1012L83 1028Q107 1224 229.5 1327.0Q352 1430 563 1430Q791 1430 913.0 1326.0Q1035 1222 1035 1034Q1035 935 996.0 855.0Q957 775 896.0 707.5Q835 640 760.5 581.0Q686 522 616.0 466.0Q546 410 488.5 353.0Q431 296 403 231H1057V0Z"/>
<path transform="translate(995.4,17.6) scale(0.0125,-0.0125)" d="M1065 391Q1065 193 935.0 85.0Q805 -23 565 -23Q338 -23 204.0 81.5Q70 186 47 383L333 408Q360 205 564 205Q665 205 721.0 255.0Q777 305 777 408Q777 502 709.0 552.0Q641 602 507 602H409V829H501Q622 829 683.0 878.5Q744 928 744 1020Q744 1107 695.5 1156.5Q647 1206 554 1206Q467 1206 413.5 1158.0Q360 1110 352 1022L71 1042Q93 1224 222.0 1327.0Q351 1430 559 1430Q780 1430 904.5 1330.5Q1029 1231 1029 1055Q1029 923 951.5 838.0Q874 753 728 725V721Q890 702 977.5 614.5Q1065 527 1065 391Z"/>
</g>
<g class="k3" style="stroke-width:2">
<path d="M272.7,30 L319.6,337.8"/>
<path d="M399,30 L365,357"/>
<path d="M997.3,29.5 L949.1,154.1"/>
</g>
<!-- 95_mark.svg -->
<g style="fill:#77779a;stroke:none">
<rect x="1146.7" y="8.6" width="2" height="2"/>
<rect x="1149.6" y="6.3" width="3.6" height="2.2"/>
<rect x="1156.2" y="8.1" width="8.8" height="2.6"/>
</g>
</svg>
</body></html>
